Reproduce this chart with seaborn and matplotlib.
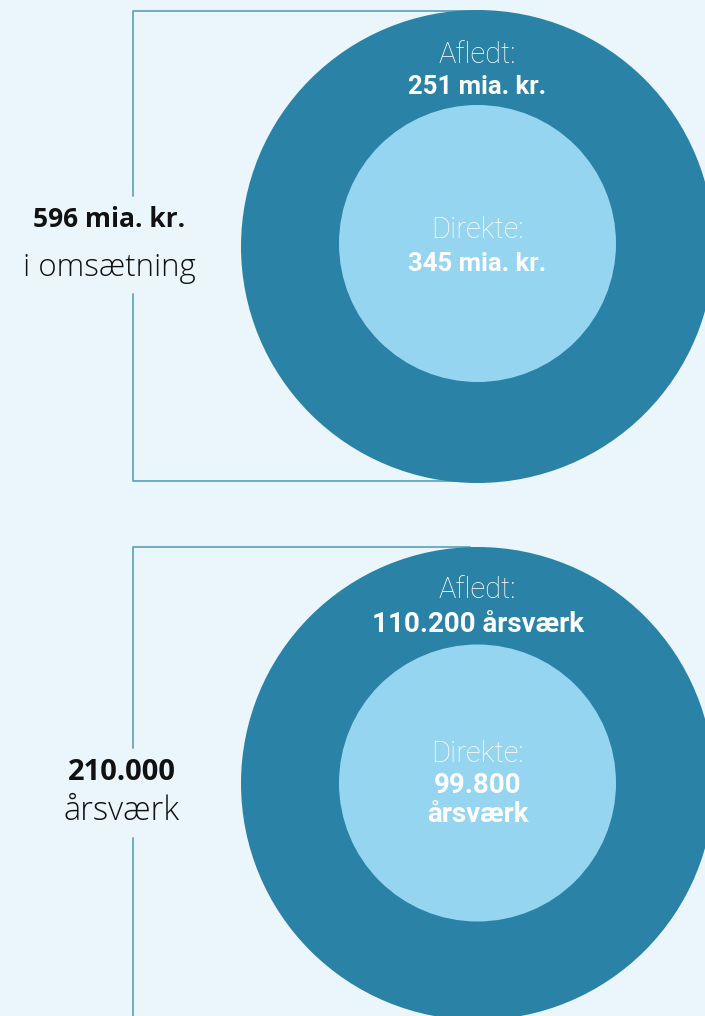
import matplotlib
matplotlib.use("Agg")
import matplotlib.pyplot as plt
from matplotlib.patches import Circle
import seaborn as sns

# Chart data
totals = ["596 mia. kr.", "210.000"]
total_units = ["i omsætning", "årsværk"]
derived_labels = ["251 mia. kr.", "110.200 årsværk"]
direct_labels = ["345 mia. kr.", "99.800\nårsværk"]

bg = "#EAF6FC"
outer_col = "#2A83A6"
inner_col = "#96D5F0"
line_col = "#5A9FBC"

sns.set_theme(style="white")
plt.rcParams["font.family"] = ["Open Sans", "DejaVu Sans"]

fig = plt.figure(figsize=(7.05, 10.16), dpi=100)
fig.patch.set_facecolor(bg)
ax = fig.add_axes([0, 0, 1, 1])
ax.set_facecolor(bg)
ax.set_xlim(0, 705)
ax.set_ylim(1016, 0)
ax.axis("off")

# panel layout (pixel coordinates)
panels = [
    dict(top=11, bottom=481, cy=246.5, icy=243.5, gap=(196, 294), t1=227, t2=276,
         tx=109, s1=19, s2=22.5),
    dict(top=547, bottom=1030, cy=783.5, icy=783, gap=(748, 838), t1=780, t2=820,
         tx=122, s1=21, s2=23.5),
]
cx, r_out, r_in = 477.5, 236.5, 138.5
circle_font = ["Roboto", "DejaVu Sans"]


def light(y, s):
    ax.text(cx, y, s, ha="center", va="baseline", fontsize=21, fontweight="light",
            family=circle_font, color="white", zorder=5)


def bold(y, s, size=18.5):
    ax.text(cx, y, s, ha="center", va="baseline", fontsize=size, fontweight="bold",
            family=circle_font, color="white", zorder=5)


for i, p in enumerate(panels):
    # bracket
    ax.plot([470, 133, 133], [p["top"], p["top"], p["gap"][0]], color=line_col, lw=1.2, zorder=1)
    ax.plot([133, 133, 470], [p["gap"][1], p["bottom"], p["bottom"]], color=line_col, lw=1.2, zorder=1)
    # circles
    ax.add_patch(Circle((cx, p["cy"]), r_out, color=outer_col, zorder=2, lw=0))
    ax.add_patch(Circle((cx, p["icy"]), r_in, color=inner_col, zorder=3, lw=0))

    # left totals
    ax.text(p["tx"], p["t1"], totals[i], ha="center", va="baseline", fontsize=p["s1"],
            fontweight="bold", color="#111111", zorder=4)
    ax.text(p["tx"], p["t2"], total_units[i], ha="center", va="baseline", fontsize=p["s2"],
            fontweight="light", color="#111111", zorder=4)

# top circle labels
light(63, "Afledt:")
bold(94, derived_labels[0])
light(238, "Direkte:")
bold(271, direct_labels[0])

# bottom circle labels
light(598, "Afledt:")
bold(632, derived_labels[1], 20)
light(762, "Direkte:")
d1, d2 = direct_labels[1].split("\n")
bold(793, d1, 20)
bold(822, d2, 20)

fig.savefig("out.png", dpi=100, facecolor=bg)
